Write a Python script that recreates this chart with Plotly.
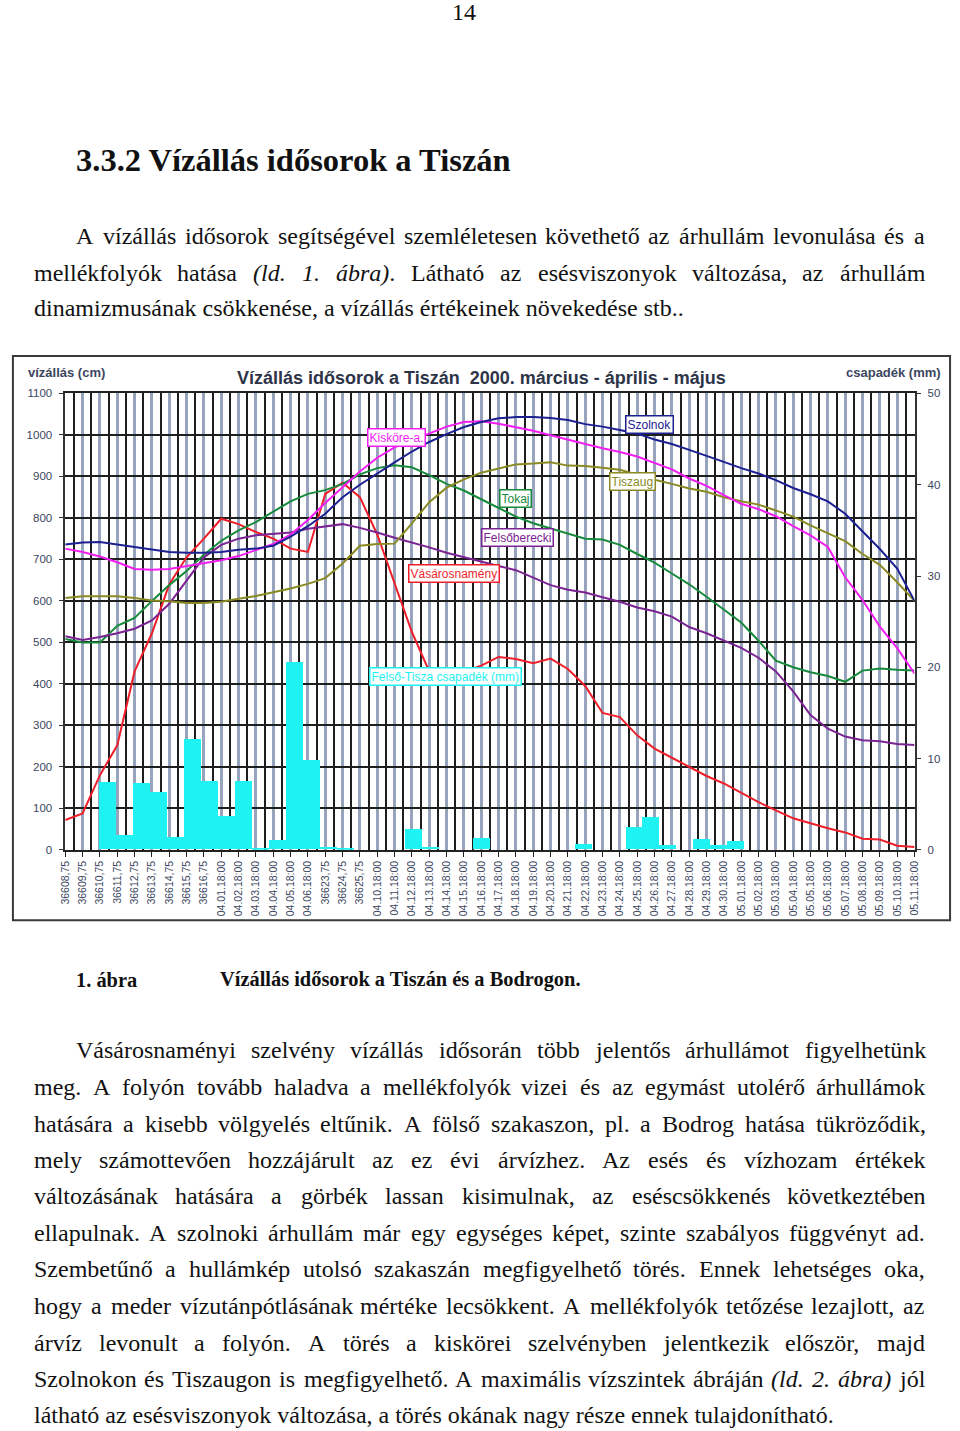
import plotly.graph_objects as go

W, H = 960, 1431

# ---------------- data ----------------
categories = [
    "36608,75", "36609,75", "36610,75", "36611,75", "36612,75", "36613,75",
    "36614,75", "36615,75", "36616,75",
    "04.01.18:00", "04.02.18:00", "04.03.18:00", "04.04.18:00", "04.05.18:00",
    "04.06.18:00", "36623,75", "36624,75", "36625,75",
    "04.10.18:00", "04.11.18:00", "04.12.18:00", "04.13.18:00", "04.14.18:00",
    "04.15.18:00", "04.16.18:00", "04.17.18:00", "04.18.18:00", "04.19.18:00",
    "04.20.18:00", "04.21.18:00", "04.22.18:00", "04.23.18:00", "04.24.18:00",
    "04.25.18:00", "04.26.18:00", "04.27.18:00", "04.28.18:00", "04.29.18:00",
    "04.30.18:00", "05.01.18:00", "05.02.18:00", "05.03.18:00", "05.04.18:00",
    "05.05.18:00", "05.06.18:00", "05.07.18:00", "05.08.18:00", "05.09.18:00",
    "05.10.18:00", "05.11.18:00",
]

vasarosnameny = [72, 88, 180, 252, 430, 522, 640, 705, 750, 798,
                 785, 766, 750, 726, 718, 858, 885, 850, 760, 640,
                 525, 430, 425, 430, 444, 465, 460, 450, 461, 436,
                 395, 330, 320, 276, 244, 222, 200, 178, 160, 137,
                 115, 95, 76, 64, 52, 42, 27, 25, 10, 7]

tokaj = [508, 500, 500, 540, 559, 600, 638, 672, 711, 745,
         770, 790, 815, 840, 858, 867, 882, 905, 920, 927,
         922, 903, 882, 866, 845, 823, 803, 787, 775, 762,
         750, 748, 735, 713, 692, 666, 640, 610, 580, 548,
         504, 456, 440, 428, 419, 405, 432, 437, 434, 432]

kiskore = [726, 718, 707, 693, 677, 675, 677, 684, 690, 698,
           708, 722, 737, 760, 795, 836, 875, 912, 945, 970,
           987, 1004, 1020, 1031, 1033, 1027, 1019, 1010, 999, 988,
           978, 968, 959, 948, 933, 917, 895, 877, 855, 834,
           821, 804, 780, 758, 730, 657, 602, 538, 486, 425]

szolnok = [736, 741, 742, 736, 730, 723, 718, 716, 716, 718,
           723, 726, 733, 755, 780, 810, 850, 880, 908, 934,
           960, 983, 1002, 1019, 1031, 1040, 1043, 1043, 1041, 1036,
           1026, 1020, 1012, 1003, 989, 978, 964, 950, 935, 920,
           907, 891, 872, 857, 840, 810, 768, 725, 678, 600]

tiszaug = [607, 611, 611, 611, 607, 601, 599, 595, 595, 598,
           605, 612, 621, 630, 641, 655, 690, 733, 737, 738,
           787, 838, 873, 893, 909, 919, 929, 931, 934, 926,
           925, 921, 916, 904, 892, 882, 871, 863, 850, 840,
           832, 818, 803, 782, 762, 744, 713, 687, 645, 600]

felsoberecki = [515, 506, 513, 522, 533, 553, 593, 650, 705, 735,
                750, 758, 762, 765, 774, 780, 785, 776, 765, 752,
                741, 729, 716, 705, 694, 684, 674, 656, 638, 627,
                620, 609, 598, 584, 575, 562, 537, 522, 505, 487,
                463, 430, 382, 325, 292, 273, 264, 262, 255, 253]

csapadek = [0, 0, 7.4, 1.6, 7.3, 6.3, 1.4, 12.1, 7.5, 3.7,
            7.5, 0.1, 1.0, 20.5, 9.8, 0.3, 0.1, 0, 0, 0,
            2.2, 0.3, 0, 0, 1.2, 0, 0, 0, 0, 0,
            0.6, 0, 0, 2.5, 3.6, 0.5, 0, 1.1, 0.5, 0.9,
            0, 0, 0, 0, 0, 0, 0, 0, 0, 0]

left_ticks = [0, 100, 200, 300, 400, 500, 600, 700, 800, 900, 1000, 1100]
right_ticks = [0, 10, 20, 30, 40, 50]

series = [
    ("Vásárosnamény", vasarosnameny, "#ee1f2a"),
    ("Tokaj", tokaj, "#178a3c"),
    ("Felsőberecki", felsoberecki, "#7b2393"),
    ("Tiszaug", tiszaug, "#8a8a24"),
    ("Kisköre-a.", kiskore, "#f21ef2"),
    ("Szolnok", szolnok, "#1c2090"),
]
CYAN = "#1ff2f2"

# ---------------- helpers ----------------
def px(x):
    return x / W


def py(y):
    return 1 - y / H


PLOT_L, PLOT_R, PLOT_T, PLOT_B = 59, 919, 390.7, 851
CH_FONT = "Liberation Sans"
AX_COL = "#3b4660"

fig = go.Figure()

idx = list(range(len(categories)))
fig.add_trace(go.Bar(
    x=idx, y=csapadek, xaxis="x", yaxis="y", width=1.0,
    marker=dict(color=CYAN, line=dict(width=0)),
    name="Felső-Tisza csapadék (mm)", showlegend=False,
))
for name, vals, col in series:
    fig.add_trace(go.Scatter(
        x=idx, y=vals, xaxis="x2", yaxis="y2", mode="lines",
        line=dict(color=col, width=2), name=name, showlegend=False,
    ))

fig.update_layout(
    width=W, height=H, margin=dict(l=0, r=0, t=0, b=0),
    paper_bgcolor="white", plot_bgcolor="white", showlegend=False,
    bargap=0,
    xaxis=dict(
        domain=[px(PLOT_L), px(PLOT_R)], range=[-0.5, len(categories) - 0.5],
        showticklabels=False, showgrid=False, zeroline=False, ticks="",
        showline=True, linecolor="#222", linewidth=1.5, mirror=True,
        anchor="y", fixedrange=True,
    ),
    yaxis=dict(
        domain=[py(PLOT_B), py(PLOT_T)], range=[0, 50], side="right",
        tickmode="array", tickvals=right_ticks, ticks="outside", ticklen=5,
        tickcolor="#333", showgrid=False, zeroline=False, showline=True,
        linecolor="#333", linewidth=1.5, anchor="x", ticklabelstandoff=4,
        tickfont=dict(family=CH_FONT, size=11.5, color=AX_COL),
    ),
    xaxis2=dict(
        overlaying="x", anchor="y2", side="bottom",
        range=[0, len(categories) - 1],
        tickmode="array", tickvals=idx, ticktext=categories, tickangle=-90,
        tickfont=dict(family=CH_FONT, size=10.5, color=AX_COL),
        ticks="outside", ticklen=5, tickcolor="#222",
        showgrid=True, gridcolor="#98a4bd", gridwidth=3,
        minor=dict(tick0=0.5, dtick=1, showgrid=True, gridcolor="#1e1e1e",
                   gridwidth=1.5, ticks=""),
        zeroline=False, showline=True, linecolor="#222", linewidth=1.5,
    ),
    yaxis2=dict(
        overlaying="y", anchor="x2", side="left", range=[0, 1100],
        tickmode="array", tickvals=left_ticks, ticks="outside", ticklen=5,
        tickcolor="#333", showgrid=True, gridcolor="#1e1e1e", gridwidth=1.5,
        zeroline=False, showline=True, linecolor="#333", linewidth=1.5,
        ticklabelstandoff=4,
        tickfont=dict(family=CH_FONT, size=11.5, color=AX_COL),
    ),
)

# chart frame
fig.add_shape(type="rect", xref="paper", yref="paper",
              x0=px(6), x1=px(955), y0=py(922), y1=py(353),
              line=dict(color="#3a3a3a", width=2), layer="below")

# chart texts
fig.add_annotation(text="<b>Vízállás idősorok a Tiszán  2000. március - április - május</b>",
                   x=px(481), y=py(375), xref="paper", yref="paper", showarrow=False,
                   xanchor="center", yanchor="middle",
                   font=dict(family=CH_FONT, size=18, color="#2e3448"))
fig.add_annotation(text="<b>vízállás (cm)</b>", x=px(19), y=py(370), xanchor="left",
                   yanchor="middle", xref="paper", yref="paper", showarrow=False,
                   font=dict(family=CH_FONT, size=13, color=AX_COL))
fig.add_annotation(text="<b>csapadék (mm)</b>", x=px(948), y=py(370), xanchor="right",
                   yanchor="middle", xref="paper", yref="paper", showarrow=False,
                   font=dict(family=CH_FONT, size=13, color=AX_COL))

labels = [
    ("Kisköre-a.", "#f21ef2", 394, 435),
    ("Szolnok", "#1c2090", 651, 422),
    ("Tokaj", "#178a3c", 515, 497),
    ("Tiszaug", "#8a8a24", 633, 480),
    ("Felsőberecki", "#7b2393", 517, 536),
    ("Vásárosnamény", "#ee1f2a", 453, 572),
    ("Felső-Tisza csapadék (mm)", CYAN, 444, 676),
]
for txt, col, lx, ly in labels:
    fig.add_annotation(text=txt, x=px(lx), y=py(ly), xref="paper", yref="paper",
                       xanchor="center", yanchor="middle",
                       showarrow=False, bgcolor="white", bordercolor=col,
                       borderwidth=1.5, borderpad=1,
                       font=dict(family=CH_FONT, size=12, color=col))

# ---------------- page text ----------------
REG = {' ': 250, 'a': 444, 'b': 500, 'c': 444, 'd': 500, 'e': 444, 'f': 333, 'g': 500,
       'h': 500, 'i': 278, 'j': 278, 'k': 500, 'l': 278, 'm': 778, 'n': 500, 'o': 500,
       'p': 500, 'q': 500, 'r': 333, 's': 389, 't': 278, 'u': 500, 'v': 500, 'w': 722,
       'x': 500, 'y': 500, 'z': 444, 'A': 722, 'B': 667, 'C': 667, 'D': 722, 'E': 611,
       'F': 556, 'G': 722, 'H': 722, 'I': 333, 'J': 389, 'K': 722, 'L': 611, 'M': 889,
       'N': 722, 'O': 722, 'P': 556, 'Q': 722, 'R': 667, 'S': 556, 'T': 611, 'U': 722,
       'V': 722, 'W': 944, 'X': 722, 'Y': 722, 'Z': 611, '.': 250, ',': 250, '(': 333,
       ')': 333, '-': 333, ':': 278}
for d in "0123456789":
    REG[d] = 500
ITA = {'(': 333, ')': 333, 'l': 278, 'd': 500, '.': 250, '1': 500, '2': 500,
       'a': 500, 'b': 500, 'r': 389, ' ': 250}
ACC = str.maketrans("áéíóöőúüűÁÉÍÓÖŐÚÜŰ", "aeiooouuuAEIOOOUUU")

FS = 24
SERIF = "Liberation Serif"
TXT_COL = "#111111"
XSHIFT = -7


def word_width(w, size):
    total, italic, i = 0, False, 0
    while i < len(w):
        if w.startswith("<i>", i):
            italic, i = True, i + 3
            continue
        if w.startswith("</i>", i):
            italic, i = False, i + 4
            continue
        c = w[i].translate(ACC)
        tbl = ITA if italic else REG
        total += tbl.get(c, REG.get(c, 500))
        i += 1
    return total * size / 1000


def put(text, x, y, size=FS, bold=False, anchor="left", family=SERIF):
    if anchor == "left":
        x = x + XSHIFT
    fig.add_annotation(text=("<b>%s</b>" % text) if bold else text,
                       x=px(x), y=py(y), xref="paper", yref="paper",
                       xanchor=anchor, yanchor="middle", showarrow=False,
                       borderpad=0, borderwidth=0,
                       font=dict(family=family, size=size, color=TXT_COL))


def line(text, y, left, right=None):
    if right is None:
        put(text, left, y)
        return
    words = text.split(" ")
    ws = [word_width(w, FS) for w in words]
    gap = (right - left - sum(ws)) / (len(words) - 1)
    x = left
    for w, wd in zip(words, ws):
        put(w, x, y)
        x += wd + gap


put("14", 463, 6, size=24, anchor="center")
put("3.3.2 Vízállás idősorok a Tiszán", 77, 155, size=32.5, bold=True)

RM = 936
line("A vízállás idősorok segítségével szemléletesen követhető az árhullám levonulása és a", 232, 77, RM)
line("mellékfolyók hatása <i>(ld.</i> <i>1.</i> <i>ábra)</i>. Látható az esésviszonyok változása, az árhullám", 269, 34, RM)
line("dinamizmusának csökkenése, a vízállás értékeinek növekedése stb..", 305, 34)

put("1. ábra", 77, 982, size=20.4, bold=True)
put("Vízállás idősorok a Tiszán és a Bodrogon.", 223, 982, size=20.4, bold=True)

para2 = [
    ("Vásárosnaményi szelvény vízállás idősorán több jelentős árhullámot figyelhetünk", 1053, 77, RM),
    ("meg. A folyón tovább haladva a mellékfolyók vizei és az egymást utolérő árhullámok", 1090, 34, RM),
    ("hatására a kisebb völgyelés eltűnik. A fölső szakaszon, pl. a Bodrog hatása tükröződik,", 1127, 34, RM),
    ("mely számottevően hozzájárult az ez évi árvízhez. Az esés és vízhozam értékek", 1164, 34, RM),
    ("változásának hatására a görbék lassan kisimulnak, az eséscsökkenés következtében", 1200, 34, RM),
    ("ellapulnak. A szolnoki árhullám már egy egységes képet, szinte szabályos függvényt ad.", 1237, 34, RM),
    ("Szembetűnő a hullámkép utolsó szakaszán megfigyelhető törés. Ennek lehetséges oka,", 1274, 34, RM),
    ("hogy a meder vízutánpótlásának mértéke lecsökkent. A mellékfolyók tetőzése lezajlott, az", 1311, 34, RM),
    ("árvíz levonult a folyón. A törés a kiskörei szelvényben jelentkezik először, majd", 1348, 34, RM),
    ("Szolnokon és Tiszaugon is megfigyelhető. A maximális vízszintek ábráján <i>(ld.</i> <i>2.</i> <i>ábra)</i> jól", 1385, 34, RM),
    ("látható az esésviszonyok változása, a törés okának nagy része ennek tulajdonítható.", 1421, 34, None),
]
for t, y, l, r in para2:
    line(t, y, l, r)

fig.write_html("out.html")
